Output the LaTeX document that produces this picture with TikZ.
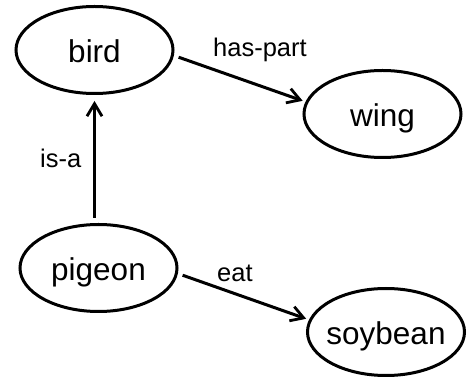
\documentclass[tikz,border=0pt]{standalone}
\usepackage{fontspec}
\setmainfont{Liberation Sans}
\usetikzlibrary{shapes.geometric,arrows.meta}
\begin{document}
\begin{tikzpicture}[x=1pt,y=-1pt,
  concept/.style={draw=black,line width=3pt,ellipse,inner sep=0pt,
    minimum width=157pt,minimum height=87pt,text height=25pt,text depth=0pt,
    font=\fontsize{31.5}{34}\selectfont},
  rel/.style={anchor=base west,inner sep=0pt,font=\fontsize{25.5}{28}\selectfont},
  arr/.style={line width=3pt,-{Straight Barb[length=12.5pt,width=15pt,line width=2.8pt]}}]
\useasboundingbox (0,0) rectangle (467,379);
\node[concept] (bird) at (94.5,50) {\makebox[0pt]{bird}};
\node[concept] (wing) at (382.5,114) {\makebox[0pt]{wing}};
\node[concept] (pigeon) at (98.5,268) {\makebox[0pt]{pigeon}};
\node[concept] (soybean) at (386,332) {\makebox[0pt]{soybean}};
\draw[arr,shorten <=5pt,shorten >=6pt] ([xshift=-4pt]pigeon.north) -- (bird.south);
\draw[arr,shorten <=5pt,shorten >=3pt] (bird.-4.8) -- (wing.171.5);
\draw[arr,shorten <=5pt,shorten >=3pt] (pigeon.-4.7) -- (soybean.171.4);
\node[rel] (isa) at (40,168) {is-a};
\node[rel] (haspart) at (213,57) {has-part};
\node[rel] (eat) at (217,282) {eat};
\end{tikzpicture}
\end{document}
